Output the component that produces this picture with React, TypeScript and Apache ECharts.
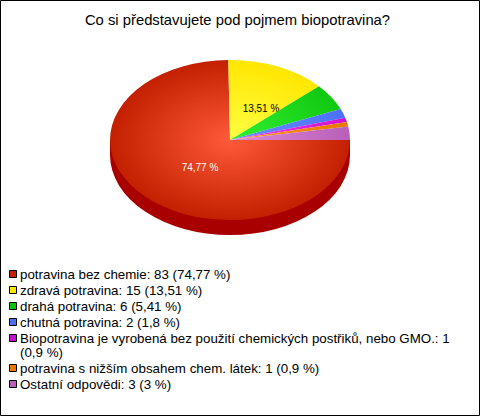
import React, { useEffect, useRef } from "react";
import * as echarts from "echarts";

const titleText = "Co si představujete pod pojmem biopotravina?";
const categories = [
  "potravina bez chemie",
  "zdravá potravina",
  "drahá potravina",
  "chutná potravina",
  "Biopotravina je vyrobená bez použití chemických postřiků, nebo GMO.",
  "potravina s nižším obsahem chem. látek",
  "Ostatní odpovědi",
];
const values = [83, 15, 6, 2, 1, 1, 3];
const percentLabels = ["74,77 %", "13,51 %", "5,41 %", "1,8 %", "0,9 %", "0,9 %", "3 %"];
const wrappedLegendItems = [4];
const innerColors = ["#ff5a3a", "#ffff44", "#33f033", "#6a90ff", "#f040f0", "#ff9a20", "#e088d8"];
const outerColors = ["#c22000", "#ffe600", "#10c810", "#4a70ff", "#d010d0", "#e87800", "#b860b8"];
const swatchColors = ["#c22000", "#ffe600", "#10c010", "#4a70ee", "#c010d0", "#e87800", "#b860b8"];
const labelColors = ["#ffffff", "#000000"];
const labelPositions: [number, number][] = [[200, 167], [261, 108]];

const W = 480, H = 416;
const CX = 230, CY = 140, RX = 120, RY = 80, DEPTH = 15;
const LEGEND_TOP = 270.5, ROW = 16, LINE = 14, SWATCH = 7, SWATCH_X = 9.5, TEXT_X = 20;
const FONT = "'Liberation Sans', Arial, sans-serif";
const total = values.reduce((a, b) => a + b, 0);

function legendElements() {
  const out: any[] = [];
  let y = LEGEND_TOP;
  categories.forEach((name, i) => {
    const wrapped = wrappedLegendItems.includes(i);
    out.push({
      type: "rect",
      silent: true,
      shape: { x: SWATCH_X, y, width: SWATCH, height: SWATCH },
      style: { fill: swatchColors[i], stroke: "#000", lineWidth: 1 },
    });
    out.push({
      type: "text",
      silent: true,
      x: TEXT_X,
      y: y - 3,
      style: {
        text: `${name}: ${values[i]}${wrapped ? "\n" : " "}(${percentLabels[i]})`,
        fill: "#000",
        font: `13.33px ${FONT}`,
        lineHeight: LINE,
        align: "left",
        verticalAlign: "top",
      },
    });
    y += ROW + (wrapped ? LINE : 0);
  });
  return out;
}

export default function App() {
  const ref = useRef<HTMLDivElement>(null);
  useEffect(() => {
    document.body.style.margin = "0";
    const chart = echarts.init(ref.current!, undefined, { renderer: "svg" });
    const scale = RY / RX;
    const series = categories.map((name, i) => ({
      type: "custom",
      name,
      coordinateSystem: "none",
      silent: true,
      z: 2 + i,
      data: [[values[i]]],
      renderItem: (_p: any, api: any) => {
        const v = api.value(0) as number;
        const before = values.slice(0, i).reduce((a, b) => a + b, 0);
        const start = (before / total) * Math.PI * 2;
        const end = ((before + v) / total) * Math.PI * 2;
        const children: any[] = [];
        const toLocalY = (d: number) => d / scale;
        if (i === 0) {
          children.push({
            type: "sector",
            shape: { cx: 0, cy: toLocalY(DEPTH), r: RX, r0: 0, startAngle: 0, endAngle: Math.PI, clockwise: true },
            style: { fill: "#a80000" },
          });
          children.push({
            type: "rect",
            shape: { x: -RX, y: 0, width: RX * 2, height: toLocalY(DEPTH) },
            style: { fill: "#a80000" },
          });
        }
        children.push({
          type: "sector",
          shape: { cx: 0, cy: 0, r: RX, r0: 0, startAngle: start, endAngle: end, clockwise: true },
          style: {
            fill: new echarts.graphic.RadialGradient(0, 0, RX, [
              { offset: 0, color: innerColors[i] },
              { offset: 1, color: outerColors[i] },
            ], true),
          },
        });
        const group: any = { type: "group", x: CX, y: CY, scaleY: scale, children };
        if (i < labelPositions.length) {
          return {
            type: "group",
            children: [
              group,
              {
                type: "text",
                x: labelPositions[i][0],
                y: labelPositions[i][1],
                style: {
                  text: percentLabels[i],
                  fill: labelColors[i],
                  font: `10px ${FONT}`,
                  align: "center",
                  verticalAlign: "middle",
                },
              },
            ],
          };
        }
        return group;
      },
    }));
    chart.setOption({
      animation: false,
      backgroundColor: "#ffffff",
      title: {
        text: titleText,
        left: 237.5,
        top: 12,
        padding: 0,
        textAlign: "center",
        textStyle: { fontFamily: FONT, fontSize: 14.8, fontWeight: "normal", color: "#000" },
      },
      graphic: [
        ...legendElements(),
        {
          type: "rect",
          silent: true,
          z: 100,
          shape: { x: 0.5, y: 0.5, width: W - 1, height: H - 1 },
          style: { fill: "none", stroke: "#000", lineWidth: 1 },
        },
      ],
      series,
    });
    return () => chart.dispose();
  }, []);
  return <div ref={ref} style={{ width: W, height: H }} />;
}
